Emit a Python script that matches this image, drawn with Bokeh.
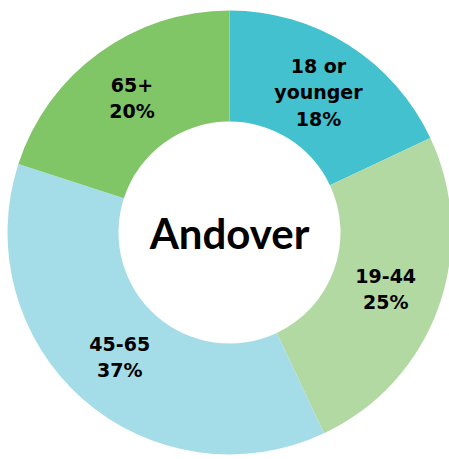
import math
from bokeh.plotting import figure
from bokeh.models import ColumnDataSource, Range1d
from bokeh.core.properties import value
from bokeh.embed import file_html
from bokeh.resources import INLINE

# data
categories = ["18 or\nyounger", "19-44", "45-65", "65+"]
shares = [18, 25, 37, 20]
colors = ["#44C1CF", "#B3D9A3", "#A4DCE8", "#80C566"]
center_title = "Andover"

total = sum(shares)
starts, ends, lx, ly, labels = [], [], [], [], []
angle = math.pi / 2
R_OUT, R_IN = 222, 111
R_LAB = 166
for c, s in zip(categories, shares):
    sweep = 2 * math.pi * s / total
    a_end = angle
    a_start = angle - sweep
    starts.append(a_start)
    ends.append(a_end)
    mid = (a_start + a_end) / 2
    lx.append(R_LAB * math.cos(mid))
    ly.append(R_LAB * math.sin(mid))
    labels.append(f"{c}\n{s}%")
    angle = a_start

src = ColumnDataSource(dict(start=starts, end=ends, color=colors, lx=lx, ly=ly, label=labels))

W, H = 449, 459
CX, CY = 229, 232
p = figure(width=W, height=H, output_backend="svg", toolbar_location=None,
           x_range=Range1d(-CX, W - CX), y_range=Range1d(-(H - CY), CY),
           min_border=0, outline_line_color=None)
p.axis.visible = False
p.grid.visible = False

p.annular_wedge(x=0, y=0, inner_radius=R_IN, outer_radius=R_OUT,
                start_angle="start", end_angle="end", fill_color="color",
                line_color=None, source=src)

p.text(x="lx", y="ly", text="label", source=src, text_align="center",
       text_baseline="middle", text_font=value("DejaVu Sans"),
       text_font_style="bold", text_font_size="19px", text_color="black",
       text_line_height=1.2)

p.text(x=[0], y=[0], text=[center_title], text_align="center",
       text_baseline="middle", text_font=value("Lato"),
       text_font_style="bold", text_font_size="42px", text_color="black")

open("out.html", "w").write(file_html(p, INLINE))
